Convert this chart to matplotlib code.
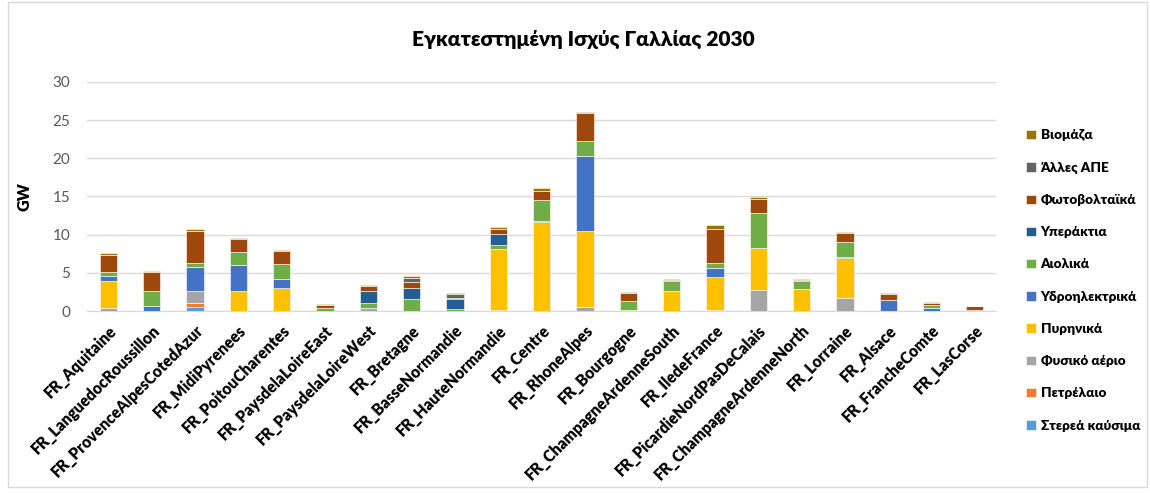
import matplotlib
matplotlib.use("Agg")
import matplotlib.pyplot as plt
from matplotlib.patches import Rectangle
import numpy as np

plt.rcParams['font.family'] = ['Lato', 'DejaVu Sans']

regions = ['FR_Aquitaine', 'FR_LanguedocRoussillon', 'FR_ProvenceAlpesCotedAzur',
           'FR_MidiPyrenees', 'FR_PoitouCharentes', 'FR_PaysdelaLoireEast',
           'FR_PaysdelaLoireWest', 'FR_Bretagne', 'FR_BasseNormandie',
           'FR_HauteNormandie', 'FR_Centre', 'FR_RhoneAlpes', 'FR_Bourgogne',
           'FR_ChampagneArdenneSouth', 'FR_IledeFrance', 'FR_PicardieNordPasDeCalais',
           'FR_ChampagneArdenneNorth', 'FR_Lorraine', 'FR_Alsace', 'FR_FrancheComte',
           'FR_LasCorse']

# GW per technology, one value per region (bottom to top of each stack)
solid   = [0, 0, 0.48, 0, 0, 0, 0, 0, 0, 0, 0, 0, 0, 0, 0, 0, 0, 0, 0, 0, 0]
oil     = [0, 0, 0.57, 0, 0, 0, 0, 0, 0, 0, 0, 0, 0, 0, 0, 0, 0, 0, 0, 0, 0]
gas     = [0.4, 0, 1.53, 0, 0, 0, 0.4, 0.05, 0, 0.17, 0, 0.53, 0.13, 0, 0.13, 2.76, 0, 1.71, 0, 0, 0]
nuclear = [3.6, 0, 0, 2.58, 2.98, 0, 0, 0, 0, 7.93, 11.69, 9.93, 0, 2.58, 4.3, 5.47, 2.93, 5.21, 0, 0, 0]
hydro   = [0.57, 0.6, 3.2, 3.46, 1.22, 0, 0, 0, 0, 0, 0.13, 9.9, 0, 0, 1.23, 0, 0, 0.13, 1.49, 0.4, 0.17]
wind    = [0.48, 2.05, 0.57, 1.75, 2.02, 0.35, 0.6, 1.48, 0.26, 0.53, 2.76, 1.93, 1.18, 1.36, 0.57, 4.6, 1.05, 1.97, 0, 0.34, 0]
offshore = [0, 0, 0, 0, 0, 0, 1.67, 1.5, 1.32, 1.47, 0, 0, 0, 0, 0, 0, 0, 0, 0, 0, 0]
pv      = [2.32, 2.45, 4.15, 1.58, 1.62, 0.48, 0.6, 0.83, 0.17, 0.67, 1.09, 3.59, 1.05, 0.13, 4.46, 1.88, 0.14, 1.18, 0.7, 0.26, 0.43]
other   = [0, 0, 0, 0, 0, 0, 0, 0.53, 0.53, 0, 0, 0, 0, 0, 0, 0, 0, 0, 0, 0, 0]
biomass = [0.18, 0.18, 0.23, 0.17, 0.13, 0.13, 0.12, 0.17, 0.08, 0.26, 0.44, 0.22, 0.14, 0.09, 0.57, 0.26, 0.05, 0.13, 0.13, 0.14, 0.1]

series = [
    ('Στερεά καύσιμα', solid, '#5B9BD5'),
    ('Πετρέλαιο', oil, '#ED7D31'),
    ('Φυσικό αέριο', gas, '#A5A5A5'),
    ('Πυρηνικά', nuclear, '#FFC000'),
    ('Υδροηλεκτρικά', hydro, '#4472C4'),
    ('Αιολικά', wind, '#70AD47'),
    ('Υπεράκτια', offshore, '#255E91'),
    ('Φωτοβολταϊκά', pv, '#9E480E'),
    ('Άλλες ΑΠΕ', other, '#636363'),
    ('Βιομάζα', biomass, '#997300'),
]

fig = plt.figure(figsize=(11.5, 4.93), dpi=100)
ax = fig.add_axes([0.0755, 0.369, 0.791, 0.465])

x = np.arange(len(regions))
bottom = np.zeros(len(regions))
handles = []
for name, vals, color in series:
    vals = np.array(vals)
    b = ax.bar(x, vals, width=0.4, bottom=bottom, color=color,
               edgecolor='white', linewidth=0.4, label=name, zorder=3)
    handles.append(b)
    bottom += vals

ax.set_xlim(-0.5, len(regions) - 0.5)
ax.set_ylim(0, 30)
ax.set_yticks(range(0, 31, 5))
ax.tick_params(axis='y', length=0, labelsize=11, labelcolor='#595959', pad=12)
ax.tick_params(axis='x', length=0, pad=8)
ax.set_xticks(x)
ax.set_xticklabels(regions, rotation=45, ha='right', rotation_mode='anchor',
                   fontsize=11.2, fontweight='heavy')
ax.grid(True, axis='y', color='#D9D9D9', linewidth=1, zorder=0)
for s in ['top', 'right', 'left']:
    ax.spines[s].set_visible(False)
ax.spines['bottom'].set_color('#D9D9D9')
ax.set_ylabel('GW', fontsize=11.5, fontweight='heavy', labelpad=14)

fig.suptitle('Εγκατεστημένη Ισχύς Γαλλίας 2030', x=0.507, y=0.94,
             fontsize=15, fontweight='heavy', color='#000000')

fig.legend(handles[::-1], [s[0] for s in series][::-1],
           loc='upper left', bbox_to_anchor=(0.882, 0.762), frameon=False,
           prop={'weight': 'heavy', 'size': 9.7}, handlelength=0.7,
           handleheight=0.7, handletextpad=0.35, labelspacing=1.5)

fig.patches.append(Rectangle((0.007, 0.012), 0.99, 0.983, transform=fig.transFigure,
                             fill=False, edgecolor='#D9D9D9', linewidth=1))

fig.savefig('out.png', dpi=100)
